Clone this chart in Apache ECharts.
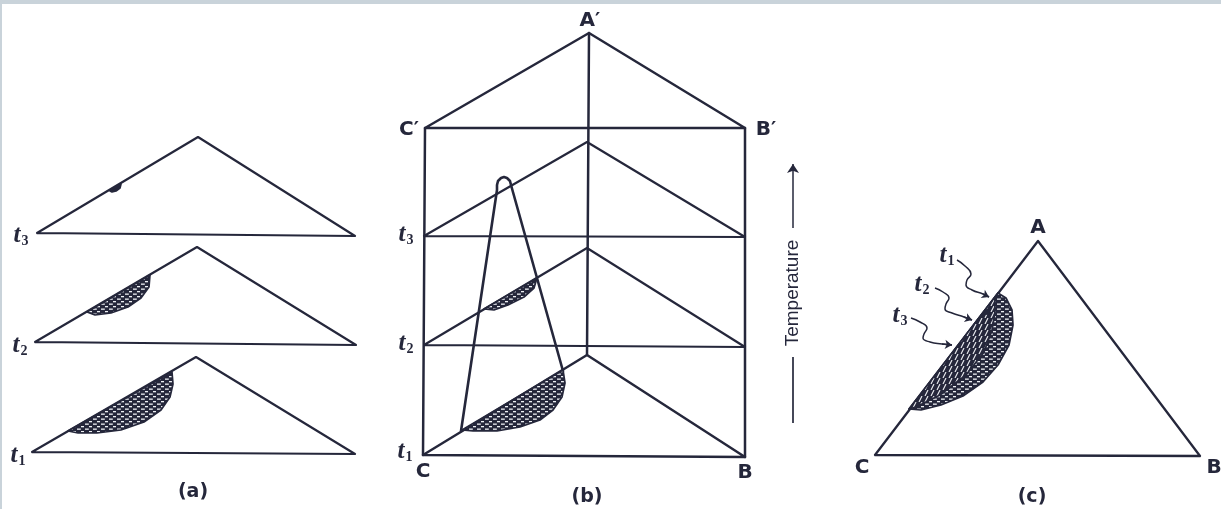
<!DOCTYPE html>
<html>
<head>
<meta charset="utf-8">
<title>Ternary system with temperature: isothermal sections</title>
<script src="https://cdn.jsdelivr.net/npm/echarts@6/dist/echarts.min.js"></script>
<style>
  html, body { margin: 0; padding: 0; background: #ffffff; }
  #chart { width: 1221px; height: 509px; position: relative; }
  .edge-top { position: absolute; left: 0; top: 0; width: 1221px; height: 4px; background: #c9d3da; z-index: 5; }
  .edge-left { position: absolute; left: 0; top: 0; width: 2px; height: 509px; background: #c9d3da; z-index: 5; }
</style>
</head>
<body>
<div class="edge-top"></div>
<div class="edge-left"></div>
<div id="chart"></div>
<script>
// ---- Drawing coordinates (page units; y grows downward) ----

// (a) stacked isothermal sections t3, t2, t1
const secA_t3 = [[37, 233], [198, 137], [355, 236], [37, 233]];
const secA_t2 = [[35, 342], [197, 247], [356, 345], [35, 342]];
const secA_t1 = [[32, 452], [196, 357], [355, 454], [32, 452]];

// (b) prism: top face, spine, side edges
const prismTop = [[425, 128], [589, 33], [745, 128], [425, 128]];
const prismSpine = [[589, 33], [587, 355]];
const prismLeft = [[425, 128], [423, 455]];
const prismRight = [[745, 128], [745, 457]];
// (b) isothermal planes inside the prism
const secB_t3 = [[424, 236], [587, 142], [745, 237], [424, 236]];
const secB_t2 = [[424, 345], [587, 248], [745, 347], [424, 345]];
const secB_t1 = [[423, 455], [587, 355], [745, 457], [423, 455]];
// (b) outline of the two-liquid dome
const domeB = [[461, 431], [497, 190], [497, 185], [498, 181], [501, 178], [504, 177], [507, 178],
               [510, 181], [511, 185], [563, 371]];

// (c) projected triangle
const triC = [[875, 455], [1038, 241], [1200, 456], [875, 455]];

// Miscibility-gap regions
const gapA_t3 = [[110, 191], [121, 184], [120, 188], [116, 191], [112, 192]];
const gapA_t2 = [[87, 312], [150, 275], [149, 287], [141, 298], [128, 307], [111, 313], [95, 315]];
const gapA_t1 = [[68, 431], [172, 372], [173, 384], [170, 397], [161, 410], [144, 422], [121, 430], [97, 433], [78, 433]];
const gapB_t2 = [[484, 309], [537, 278], [534, 288], [524, 297], [508, 305], [494, 310]];
const gapB_t1 = [[462, 430], [563, 370], [565, 383], [562, 397], [553, 410], [540, 420], [520, 427], [497, 431], [473, 431]];
const gapC_outer = [[909, 409], [998, 293], [1006, 298], [1012, 310], [1013, 325], [1009, 345], [998, 365],
                    [983, 382], [963, 396], [941, 405], [921, 410]];
const gapC_inner = [[909, 409], [998, 293], [995, 297], [995, 312], [992, 330], [984, 352], [966, 375], [940, 395], [916, 407]];
const plaitPoint = [[987, 312]];

// Wavy leader lines in (c), label end first, arrow end last
const leaderT1 = [[957, 260], [965, 266], [971, 274], [967, 280], [966, 285], [972, 290], [983, 294], [989, 297]];
const leaderT2 = [[935, 288], [943, 292], [949, 298], [946, 304], [945, 309], [952, 313], [964, 317], [972, 320]];
const leaderT3 = [[911, 318], [920, 322], [927, 328], [924, 334], [923, 338], [930, 342], [942, 344], [952, 345]];

// Temperature axis arrow
const tempArrowUp = [[793, 228], [793, 164]];
const tempArrowTail = [[793, 357], [793, 423]];

// Text labels: [text, x, y]
const vertexLabels = [
  ['A′', 590, 21], ['C′', 409, 130], ['B′', 766, 130], ['C', 423, 472], ['B', 745, 473],
  ['A', 1038, 228], ['C', 862, 468], ['B', 1214, 468]
];
const captions = [['(a)', 193, 492], ['(b)', 587, 497], ['(c)', 1032, 497]];
const tempLabels = [
  ['3', 21, 236], ['2', 20, 346], ['1', 18, 456],
  ['3', 406, 235], ['2', 406, 344], ['1', 405, 452],
  ['1', 947, 256], ['2', 922, 285], ['3', 900, 316]
];
const axisTitle = [['Temperature', 793, 293]];

// ---- Styling ----
const ink = '#25273b';

function dashPattern() {
  const c = document.createElement('canvas');
  c.width = 8; c.height = 5;
  const g = c.getContext('2d');
  g.fillStyle = ink; g.fillRect(0, 0, 8, 5);
  g.fillStyle = '#eef0f4';
  g.fillRect(1, 1, 3, 1.3);
  g.fillRect(5, 3.5, 3, 1.3);
  g.fillRect(0, 3.5, 0.8, 1.3);
  return { image: c, repeat: 'repeat' };
}
function hatchPattern() {
  const c = document.createElement('canvas');
  c.width = 6; c.height = 6;
  const g = c.getContext('2d');
  g.fillStyle = ink; g.fillRect(0, 0, 6, 6);
  g.strokeStyle = '#eef0f4'; g.lineWidth = 1.1;
  g.beginPath(); g.moveTo(1, 6); g.lineTo(4, 0); g.stroke();
  return { image: c, repeat: 'repeat' };
}
const fills = { dash: dashPattern(), hatch: hatchPattern(), solid: ink };

const regions = [
  { pts: gapA_t3, fill: 'solid' },
  { pts: gapA_t2, fill: 'dash' },
  { pts: gapA_t1, fill: 'dash' },
  { pts: gapB_t2, fill: 'dash' },
  { pts: gapB_t1, fill: 'dash' },
  { pts: gapC_outer, fill: 'dash' },
  { pts: gapC_inner, fill: 'hatch' }
];

const framePaths = [
  [secA_t3, 2.2], [secA_t2, 2.2], [secA_t1, 2.2],
  [prismTop, 2.5], [prismSpine, 2.5], [prismLeft, 2.5], [prismRight, 2.5],
  [secB_t3, 2.2], [secB_t2, 2.2], [secB_t1, 2.5],
  [domeB, 2.6], [triC, 2.3]
];

const boldSans = { fontFamily: 'DejaVu Sans', fontWeight: 'bold', color: ink };

// plain text carriers: invisible points that only hold a label
function textLayer(items, label) {
  return {
    type: 'scatter',
    silent: true,
    z: 5,
    symbolSize: 0,
    itemStyle: { opacity: 1, color: ink },
    data: items.map(([t, x, y]) => ({ name: t, value: [x, y] })),
    label: Object.assign({ show: true, position: 'inside', formatter: '{b}', opacity: 1 }, label)
  };
}

const chart = echarts.init(document.getElementById('chart'), null, { renderer: 'canvas' });

chart.setOption({
  animation: false,
  backgroundColor: '#ffffff',
  grid: { left: 0, right: 0, top: 0, bottom: 0 },
  xAxis: { type: 'value', min: 0, max: 1221, show: false },
  yAxis: { type: 'value', min: 0, max: 509, inverse: true, show: false },
  series: [
    {
      type: 'lines',
      coordinateSystem: 'cartesian2d',
      polyline: true,
      silent: true,
      z: 2,
      data: framePaths.map(([coords, w]) => ({
        coords: coords,
        lineStyle: { width: w }
      })),
      lineStyle: { color: ink, opacity: 1, cap: 'round', join: 'round' }
    },
    {
      type: 'custom',
      coordinateSystem: 'cartesian2d',
      silent: true,
      z: 3,
      data: regions.map(r => r.pts[0]),
      renderItem: function (params, api) {
        const r = regions[params.dataIndex];
        return {
          type: 'polygon',
          shape: { points: r.pts.map(p => api.coord(p)) },
          style: { fill: fills[r.fill], stroke: ink, lineWidth: 1.7, lineJoin: 'round' }
        };
      }
    },
    {
      type: 'scatter',
      silent: true,
      z: 4,
      symbol: 'circle',
      symbolSize: 6,
      itemStyle: { color: ink, opacity: 1 },
      data: plaitPoint
    },
    ...[leaderT1, leaderT2, leaderT3].map(pts => ({
      type: 'line',
      silent: true,
      z: 4,
      smooth: 0.5,
      symbol: 'none',
      lineStyle: { color: ink, width: 1.5 },
      data: pts
    })),
    {
      type: 'lines',
      coordinateSystem: 'cartesian2d',
      silent: true,
      z: 4,
      symbol: ['none', 'arrow'],
      symbolSize: 7,
      lineStyle: { color: ink, width: 1.5, opacity: 1 },
      data: [leaderT1, leaderT2, leaderT3].map(pts => ({ coords: pts.slice(-2) }))
        .concat([{ coords: tempArrowUp, symbolSize: 9 }])
    },
    {
      type: 'lines',
      coordinateSystem: 'cartesian2d',
      silent: true,
      z: 4,
      lineStyle: { color: ink, width: 1.7, opacity: 1 },
      data: [{ coords: tempArrowTail }]
    },
    textLayer(vertexLabels, Object.assign({ fontSize: 20 }, boldSans)),
    textLayer(captions, Object.assign({ fontSize: 19 }, boldSans)),
    textLayer(tempLabels, {
      formatter: p => '{t|t}{s|' + p.name + '}',
      rich: {
        t: { fontFamily: 'Liberation Serif', fontStyle: 'italic', fontWeight: 'bold', fontSize: 25, color: ink, lineHeight: 24, verticalAlign: 'bottom' },
        s: { fontFamily: 'Liberation Serif', fontWeight: 'bold', fontSize: 14, color: ink, lineHeight: 24, verticalAlign: 'bottom', padding: [0, 0, 0, 1] }
      }
    }),
    textLayer(axisTitle, {
      rotate: 90, fontFamily: 'Liberation Sans', fontSize: 19, color: ink
    })
  ]
});
</script>
</body>
</html>
